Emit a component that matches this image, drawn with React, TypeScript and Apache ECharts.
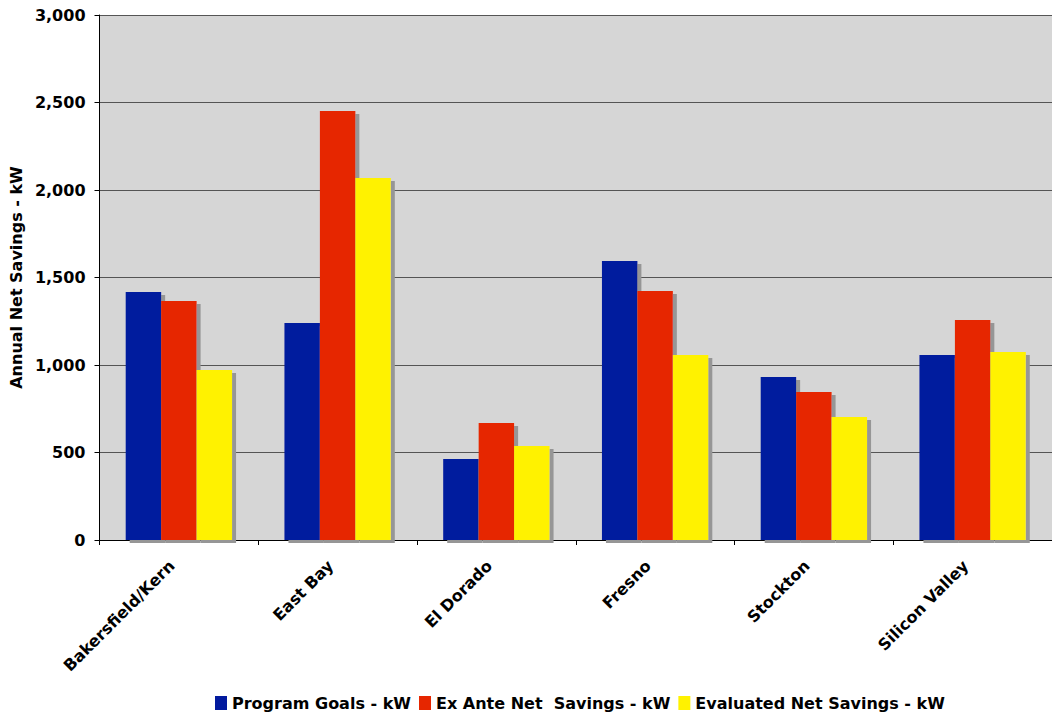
import React, { useEffect, useRef } from "react";
import * as echarts from "echarts";

// Regions and savings per program (kW)
const regions = ["Bakersfield/Kern", "East Bay", "El Dorado", "Fresno", "Stockton", "Silicon Valley"];
const programGoals = [1417, 1240, 463, 1594, 931, 1057];
const exAnteNetSavings = [1366, 2451, 669, 1423, 846, 1257];
const evaluatedNetSavings = [971, 2069, 537, 1057, 703, 1074];

const seriesNames = ["Program Goals - kW", "Ex Ante Net  Savings - kW", "Evaluated Net Savings - kW"];
const seriesColors = ["#021A9E", "#E62600", "#FFF200"];

const FONT = "'DejaVu Sans', Verdana, sans-serif";

export default function App() {
  const ref = useRef<HTMLDivElement>(null);

  useEffect(() => {
    if (!ref.current) return;
    const chart = echarts.init(ref.current, null, { renderer: "svg" });
    const values = [programGoals, exAnteNetSavings, evaluatedNetSavings];
    chart.setOption({
      animation: false,
      backgroundColor: "#ffffff",
      textStyle: { fontFamily: FONT },
      grid: { left: 97, right: 0, top: 15, bottom: 179, backgroundColor: "#D6D6D6", show: true, borderWidth: 0 },
      legend: {
        bottom: 3,
        left: 210,
        itemWidth: 12,
        itemHeight: 14,
        itemGap: 8,
        icon: "rect",
        textStyle: { fontFamily: FONT, fontWeight: "bold", fontSize: 16, color: "#000" },
        data: seriesNames,
      },
      xAxis: {
        type: "category",
        data: regions,
        axisLine: { lineStyle: { color: "#000", width: 1 } },
        axisTick: { show: true, length: 5, lineStyle: { color: "#000" } },
        axisLabel: {
          rotate: 45,
          interval: 0,
          margin: 16,
          fontFamily: FONT,
          fontWeight: "bold",
          fontSize: 16,
          color: "#000",
          padding: [0, 10, 0, 0],
        },
      },
      yAxis: {
        type: "value",
        min: 0,
        max: 3000,
        interval: 500,
        name: "Annual Net Savings - kW",
        nameLocation: "middle",
        nameRotate: 90,
        nameGap: 70,
        nameTextStyle: { fontFamily: FONT, fontWeight: "bold", fontSize: 16, color: "#000" },
        axisLine: { show: true, lineStyle: { color: "#000", width: 1 } },
        axisTick: { show: true, length: 5, lineStyle: { color: "#000" } },
        axisLabel: {
          margin: 14,
          fontFamily: FONT,
          fontWeight: "bold",
          fontSize: 16,
          color: "#000",
          formatter: (v: number) => v.toLocaleString("en-US"),
        },
        splitLine: { show: true, lineStyle: { color: "#555", width: 1.2 } },
      },
      series: seriesNames.map((name, i) => ({
        name,
        type: "bar",
        data: values[i],
        barGap: "0%",
        barCategoryGap: "33%",
        itemStyle: {
          color: seriesColors[i],
          shadowColor: "#969696",
          shadowBlur: 0,
          shadowOffsetX: 4,
          shadowOffsetY: 3,
        },
      })),
    });
    return () => chart.dispose();
  }, []);

  return <div ref={ref} style={{ position: "fixed", left: 0, top: 0, width: 1052, height: 719 }} />;
}
